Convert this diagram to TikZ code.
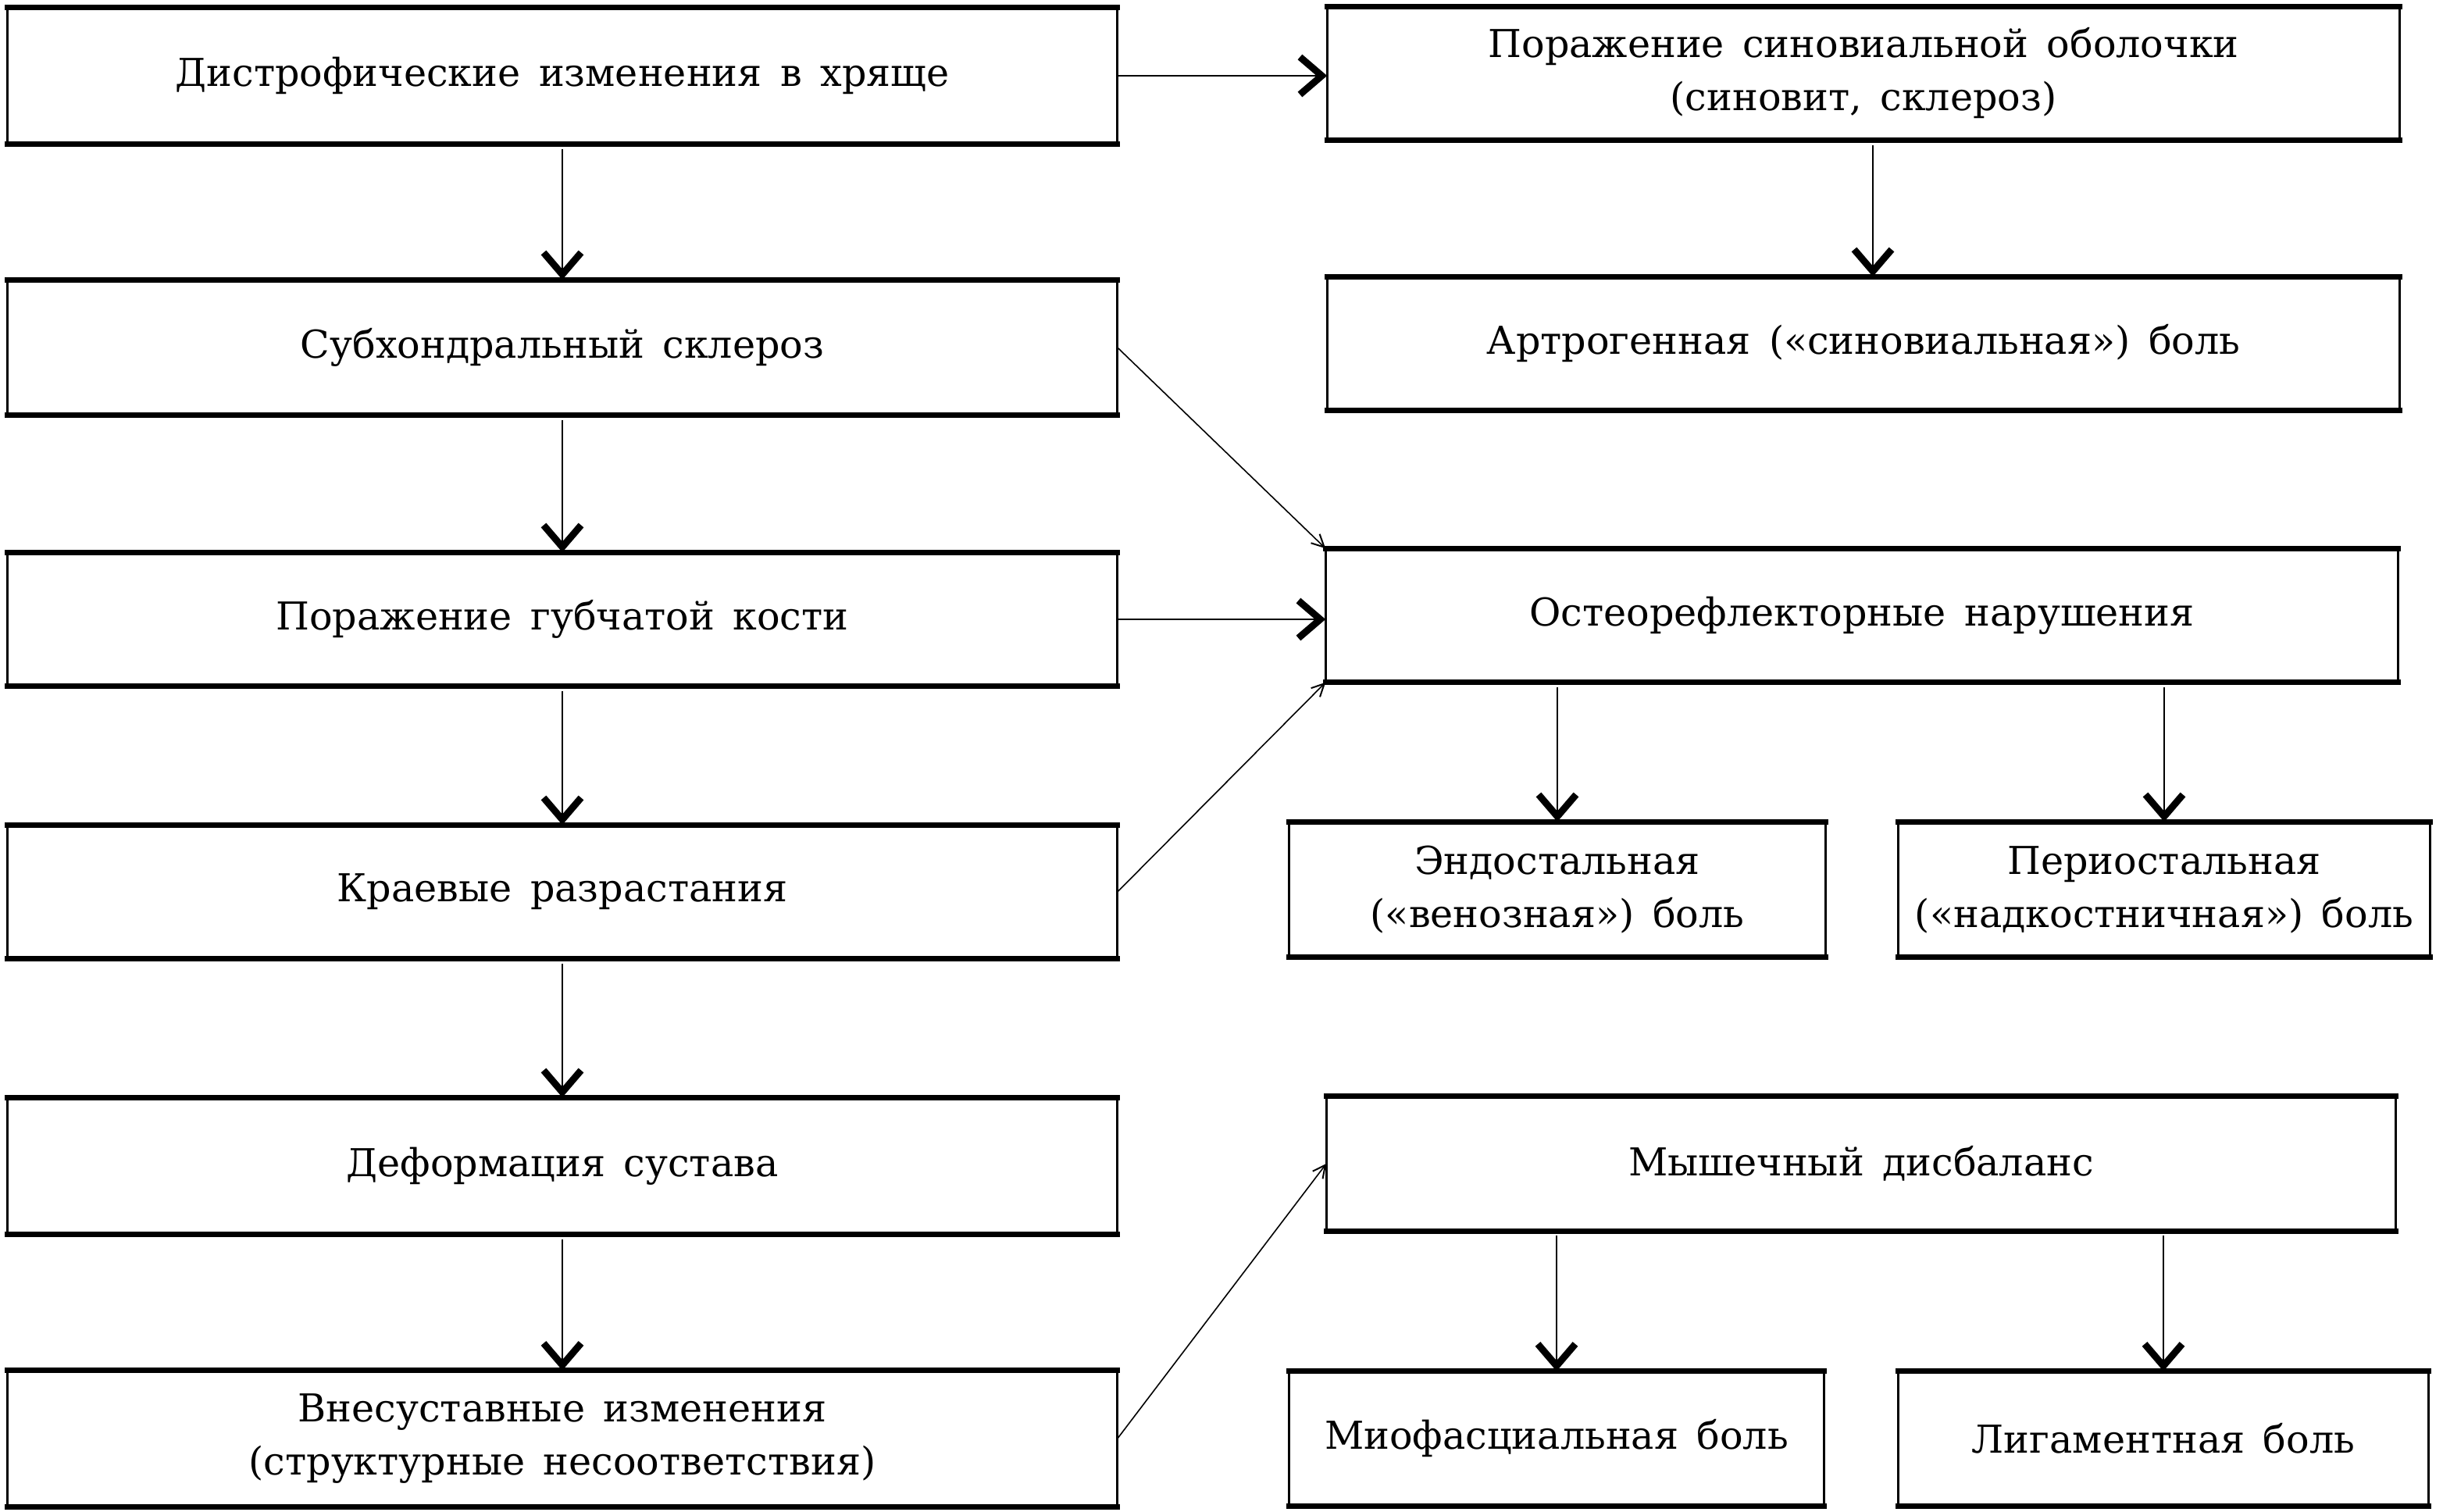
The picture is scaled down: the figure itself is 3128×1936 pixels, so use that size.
\documentclass[tikz,border=0pt]{standalone}
\usepackage{fontspec}
\setmainfont{DejaVu Serif}[WordSpace=1.5]
\usetikzlibrary{arrows.meta}
\begin{document}
\begin{tikzpicture}[x=0.25pt,y=-0.25pt,
  box/.style={inner sep=0pt, align=center, font=\fontsize{12.3}{17}\selectfont},
  side/.style={line width=0.8pt},
  topbot/.style={line width=1.7pt, line cap=rect},
  conn/.style={line width=0.4pt, -{Straight Barb[length=7pt,width=12pt,line width=2.2pt]}},
  diag/.style={line width=0.4pt, -{Straight Barb[length=4pt,width=4pt,line width=0.5pt]}}]
\useasboundingbox[fill=white] (0,0) rectangle (3128,1936);

\node[box, minimum width=355pt, minimum height=43.5pt] (l1) at (720,97) {Дистрофические изменения в хряще};
\node[box, minimum width=355pt, minimum height=43pt] (l2) at (720,445) {Субхондральный склероз};
\node[box, minimum width=355pt, minimum height=42.5pt] (l3) at (720,793) {Поражение губчатой кости};
\node[box, minimum width=355pt, minimum height=42.5pt] (l4) at (720,1142) {Краевые разрастания};
\node[box, minimum width=355pt, minimum height=43.5pt] (l5) at (720,1493) {Деформация сустава};
\node[box, minimum width=355pt, minimum height=43.25pt] (l6) at (720,1842) {Внесуставные изменения\\(структурные несоответствия)};

\node[box, minimum width=343pt, minimum height=42.5pt] (r1) at (2386,94) {Поражение синовиальной оболочки\\(синовит, склероз)};
\node[box, minimum width=343pt, minimum height=42.5pt] (r2) at (2386,440) {Артрогенная («синовиальная») боль};
\node[box, minimum width=343pt, minimum height=42.5pt] (r3) at (2384,788) {Остеорефлекторные нарушения};
\node[box, minimum width=171.5pt, minimum height=43pt] (e1) at (1994,1139) {Эндостальная\\(«венозная») боль};
\node[box, minimum width=170pt, minimum height=43pt] (e2) at (2771,1139) {Периостальная\\(«надкостничная») боль};
\node[box, minimum width=342pt, minimum height=42.75pt] (m) at (2383,1490) {Мышечный дисбаланс};
\node[box, minimum width=171pt, minimum height=42.75pt] (m1) at (1993,1842) {Миофасциальная боль};
\node[box, minimum width=169.5pt, minimum height=42.75pt] (m2) at (2770,1842) {Лигаментная боль};

\foreach \n in {l1,l2,l3,l4,l5,l6,r1,r2,r3,e1,e2,m,m1,m2}{
  \draw[side] (\n.north west) -- (\n.south west) (\n.north east) -- (\n.south east);
  \draw[topbot] (\n.north west) -- (\n.north east) (\n.south west) -- (\n.south east);
}

\draw[conn, shorten <=1.5pt] (l1) -- (l2);
\draw[conn, shorten <=1.5pt] (l2) -- (l3);
\draw[conn, shorten <=1.5pt] (l3) -- (l4);
\draw[conn, shorten <=1.5pt] (l4) -- (l5);
\draw[conn, shorten <=1.5pt] (l5) -- (l6);
\draw[conn] (l1.east) -- (l1.east -| r1.west);
\draw[conn] (l3.east) -- (l3.east -| r3.west);
\draw[conn, shorten <=1.5pt] ([xshift=3pt]r1.south) -- ([xshift=3pt]r2.north);
\draw[conn, shorten <=1.5pt] (r3.south -| e1.north) -- (e1.north);
\draw[conn, shorten <=1.5pt] (r3.south -| e2.north) -- (e2.north);
\draw[conn, shorten <=1.5pt] (m.south -| m1.north) -- (m1.north);
\draw[conn, shorten <=1.5pt] (m.south -| m2.north) -- (m2.north);
\draw[diag] (l2.east) -- (r3.north west);
\draw[diag] (l4.east) -- (r3.south west);
\draw[diag] (l6.east) -- (m.west);
\end{tikzpicture}
\end{document}
